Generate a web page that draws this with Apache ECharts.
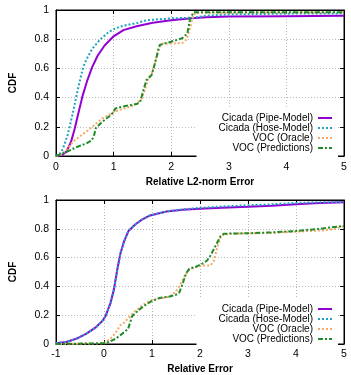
<!DOCTYPE html>
<html>
<head>
<meta charset="utf-8">
<script src="https://cdn.jsdelivr.net/npm/echarts@6/dist/echarts.min.js"></script>
<style>
  html, body { margin: 0; padding: 0; background: #fff; }
  #chart { width: 351px; height: 375px; }
</style>
</head>
<body>
<div id="chart"></div>
<script>
// series names (legend)
const names = ['Cicada (Pipe-Model)', 'Cicada (Hose-Model)', 'VOC (Oracle)', 'VOC (Predictions)']

// top plot: Relative L2-norm Error, [error, CDF]
const pipeL2 = [[0,0],[0.1,0.005],[0.18,0.03],[0.26,0.096],[0.32,0.18],[0.375,0.27],[0.46,0.41],[0.545,0.52],[0.63,0.61],[0.72,0.685],[0.84,0.755],[1.0,0.82],[1.17,0.862],[1.4,0.889],[1.68,0.913],[2.0,0.93],[2.36,0.943],[2.6,0.95],[3,0.955],[4,0.958],[5,0.96]]
const hoseL2 = [[0,0],[0.06,0.01],[0.12,0.05],[0.2,0.14],[0.29,0.29],[0.375,0.45],[0.46,0.59],[0.52,0.655],[0.63,0.735],[0.77,0.8],[0.92,0.85],[1.03,0.874],[1.17,0.893],[1.4,0.91],[1.57,0.93],[2.0,0.943],[2.36,0.947],[2.6,0.96],[3,0.97],[4,0.975],[5,0.977]]
const oracleL2 = [[0,0],[0.1,0.01],[0.2,0.05],[0.29,0.096],[0.4,0.13],[0.52,0.165],[0.66,0.21],[0.8,0.256],[1.0,0.3],[1.17,0.325],[1.31,0.34],[1.4,0.36],[1.49,0.395],[1.55,0.46],[1.6,0.53],[1.66,0.56],[1.72,0.64],[1.78,0.74],[1.85,0.77],[2.0,0.77],[2.2,0.775],[2.27,0.8],[2.33,0.88],[2.38,0.96],[2.42,0.98],[3,0.982],[5,0.984]]
const predL2 = [[0,0],[0.18,0.027],[0.35,0.06],[0.52,0.085],[0.62,0.107],[0.66,0.14],[0.69,0.19],[0.8,0.233],[0.92,0.27],[1.0,0.3],[1.03,0.325],[1.17,0.34],[1.31,0.35],[1.4,0.356],[1.46,0.37],[1.51,0.44],[1.57,0.52],[1.66,0.555],[1.71,0.623],[1.8,0.76],[1.88,0.77],[2.0,0.783],[2.19,0.806],[2.28,0.84],[2.33,0.943],[2.39,0.984],[5,0.984]]

// bottom plot: Relative Error, [error, CDF]
const pipeRel = [[-1,0.005],[-0.785,0.014],[-0.58,0.036],[-0.375,0.07],[-0.17,0.116],[-0.034,0.16],[0.034,0.195],[0.137,0.286],[0.205,0.376],[0.273,0.51],[0.34,0.626],[0.41,0.705],[0.51,0.785],[0.65,0.83],[0.79,0.864],[0.96,0.893],[1.0,0.905],[1.3,0.92],[1.64,0.932],[2.0,0.94],[2.46,0.946],[3,0.953],[3.5,0.96],[4,0.97],[4.5,0.98],[5,0.985]]
const hoseRel = [[-1,0.005],[-0.785,0.014],[-0.58,0.036],[-0.375,0.07],[-0.17,0.116],[-0.034,0.16],[0.034,0.195],[0.137,0.286],[0.205,0.376],[0.273,0.51],[0.34,0.626],[0.41,0.705],[0.51,0.785],[0.65,0.83],[0.79,0.864],[0.96,0.893],[1.0,0.905],[1.3,0.92],[1.64,0.935],[2.0,0.945],[2.46,0.955],[3,0.963],[3.5,0.97],[4,0.98],[4.5,0.984],[5,0.986]]
const oracleRel = [[-1,0],[0,0.005],[0.034,0.01],[0.17,0.048],[0.273,0.093],[0.34,0.13],[0.41,0.145],[0.48,0.17],[0.55,0.195],[0.65,0.23],[0.72,0.245],[0.82,0.274],[1.0,0.304],[1.16,0.315],[1.37,0.33],[1.5,0.365],[1.6,0.42],[1.71,0.49],[1.78,0.52],[1.91,0.532],[2.05,0.546],[2.22,0.546],[2.29,0.58],[2.36,0.67],[2.43,0.74],[2.5,0.762],[2.67,0.766],[3,0.768],[3.5,0.772],[4,0.78],[4.3,0.785],[4.6,0.79],[4.8,0.8],[5,0.818]]
const predRel = [[-1,0],[0,0.005],[0.1,0.014],[0.24,0.036],[0.375,0.07],[0.5,0.104],[0.546,0.15],[0.58,0.19],[0.72,0.236],[0.85,0.268],[1.0,0.3],[1.16,0.32],[1.37,0.33],[1.5,0.342],[1.57,0.358],[1.64,0.42],[1.71,0.49],[1.78,0.524],[1.91,0.535],[2.05,0.558],[2.15,0.58],[2.22,0.615],[2.29,0.66],[2.36,0.705],[2.43,0.75],[2.5,0.766],[3,0.769],[3.5,0.775],[4,0.785],[4.5,0.8],[5,0.82]]

const FONT = '"Liberation Sans", Arial, sans-serif'
const colors = ['#9400d3', '#1fa2c0', '#f6a866', '#1f8b2a']
const dashes = ['solid', [2, 2], [2, 2], [5, 2, 2, 2]]

const chart = echarts.init(document.getElementById('chart'))

// 坐标轴 (主轴带标签，镜像轴只画刻度)
function mainX(grid, min, max, title, gap, margin) {
  return {
    type: 'value', gridIndex: grid, min: min, max: max, interval: 1,
    name: title, nameLocation: 'middle', nameGap: gap,
    nameTextStyle: { fontFamily: FONT, fontSize: 10, fontWeight: 'bold', color: '#000' },
    axisLine: { show: true, onZero: false, lineStyle: { color: '#000', width: 1 } },
    axisTick: { show: true, inside: true, length: 4, lineStyle: { color: '#000' } },
    axisLabel: { fontFamily: FONT, fontSize: 10.5, color: '#000', margin: margin },
    splitLine: { show: true, lineStyle: { color: '#b8b8b8', type: [1, 2], width: 1 } }
  }
}
function mirrorX(grid, min, max) {
  return {
    type: 'value', gridIndex: grid, min: min, max: max, interval: 1, position: 'top',
    axisLine: { show: true, onZero: false, lineStyle: { color: '#000', width: 1 } },
    axisTick: { show: true, inside: true, length: 4, lineStyle: { color: '#000' } },
    axisLabel: { show: false }, splitLine: { show: false }
  }
}
function mainY(grid) {
  return {
    type: 'value', gridIndex: grid, min: 0, max: 1, interval: 0.2,
    name: 'CDF', nameLocation: 'middle', nameGap: 38,
    nameTextStyle: { fontFamily: FONT, fontSize: 10, fontWeight: 'bold', color: '#000' },
    axisLine: { show: true, onZero: false, lineStyle: { color: '#000', width: 1 } },
    axisTick: { show: true, inside: true, length: 4, lineStyle: { color: '#000' } },
    axisLabel: { fontFamily: FONT, fontSize: 10.5, color: '#000', margin: 7 },
    splitLine: { show: true, lineStyle: { color: '#b8b8b8', type: [1, 2], width: 1 } }
  }
}
function mirrorY(grid) {
  return {
    type: 'value', gridIndex: grid, min: 0, max: 1, interval: 0.2, position: 'right',
    axisLine: { show: true, onZero: false, lineStyle: { color: '#000', width: 1 } },
    axisTick: { show: true, inside: true, length: 4, lineStyle: { color: '#000' } },
    axisLabel: { show: false }, splitLine: { show: false }
  }
}

function line(i, data, axis) {
  return {
    name: names[i], type: 'line', data: data,
    xAxisIndex: axis, yAxisIndex: axis,
    symbol: 'none', showSymbol: false,
    lineStyle: { color: colors[i], width: 2, type: dashes[i] },
    itemStyle: { color: colors[i] }
  }
}

function legendAt(top) {
  return {
    data: names, orient: 'vertical', right: 13, top: top,
    align: 'right', itemWidth: 14, itemHeight: 9, itemGap: 0, itemTextGap: 6,
    padding: [5, 5, 5, 22], backgroundColor: '#fff',
    selectedMode: false,
    itemStyle: { opacity: 0 },
    textStyle: { fontFamily: FONT, fontSize: 10, color: '#000', lineHeight: 10 }
  }
}

const option = {
  animation: false,
  backgroundColor: '#fff',
  grid: [
    { left: 51, top: 10, width: 293, height: 146, show: true, borderColor: '#000', borderWidth: 1 },
    { left: 51, top: 200, width: 293, height: 147, show: true, borderColor: '#000', borderWidth: 1 }
  ],
  legend: [legendAt(108), legendAt(299)],
  xAxis: [
    mainX(0, 0, 5, 'Relative L2-norm Error', 21, 6),
    mirrorX(0, 0, 5),
    mainX(1, -1, 5, 'Relative Error', 20, 5),
    mirrorX(1, -1, 5)
  ],
  yAxis: [mainY(0), mirrorY(0), mainY(1), mirrorY(1)],
  series: [
    line(0, pipeL2, 0),
    line(1, hoseL2, 0),
    line(2, oracleL2, 0),
    line(3, predL2, 0),
    line(0, pipeRel, 2),
    line(1, hoseRel, 2),
    line(2, oracleRel, 2),
    line(3, predRel, 2)
  ]
}

chart.setOption(option)
</script>
</body>
</html>
